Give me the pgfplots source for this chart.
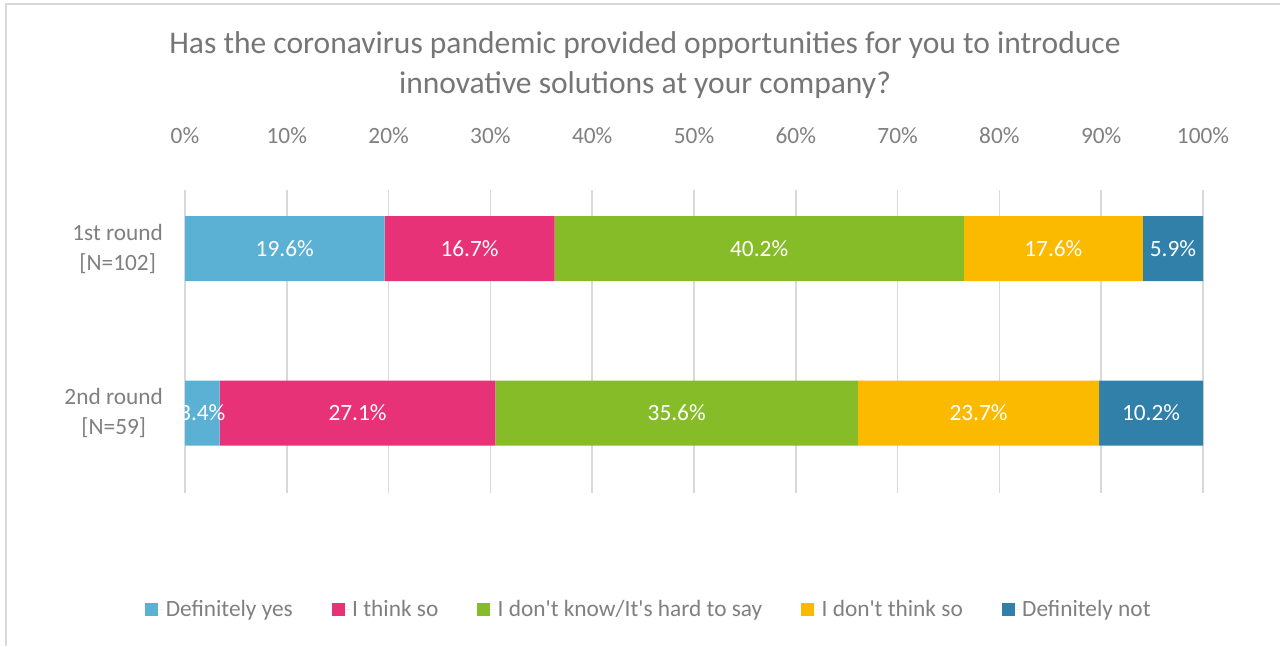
\documentclass[border=0pt]{standalone}
\usepackage{pgfplots}
\pgfplotsset{compat=1.18}
\usepackage{fontspec}
\setmainfont{Carlito}
\definecolor{cA}{HTML}{5BB1D4}
\definecolor{cB}{HTML}{E83278}
\definecolor{cC}{HTML}{86BC28}
\definecolor{cD}{HTML}{FBB900}
\definecolor{cE}{HTML}{3180AA}
\definecolor{gridgray}{HTML}{D9D9D9}
\definecolor{labelgray}{HTML}{808080}
\definecolor{titlegray}{HTML}{767676}
\begin{document}
\begin{tikzpicture}[x=1pt,y=1pt]
\useasboundingbox (0,0) rectangle (960,484.5);
\fill[white] (0,0) rectangle (960,484.5);
\draw[gridgray, line width=0.8pt] (4.5,0) -- (4.5,481.5) -- (960,481.5);
\node[text=titlegray, font=\fontsize{23.65}{30}\selectfont, align=center] at (483.75,435.75)
  {Has the coronavirus pandemic provided opportunities for you to introduce\\innovative solutions at your company?};
\begin{axis}[
  at={(138.75pt,114.75pt)}, anchor=south west,
  scale only axis, width=763.5pt, height=227.25pt,
  xbar stacked, bar width=48.75pt,
  xmin=0, xmax=100, ymin=-0.486, ymax=1.356,
  xtick={0,10,...,100},
  xticklabels={0\%,10\%,20\%,30\%,40\%,50\%,60\%,70\%,80\%,90\%,100\%},
  xticklabel pos=top,
  xticklabel style={yshift=31pt},
  ytick={0,1},
  yticklabels={{2nd round\\{}[N=59]},{1st round\\{}[N=102]}},
  yticklabel style={align=center, xshift=-13pt, font=\fontsize{17.5}{22.5}\selectfont},
  tick label style={text=labelgray, font=\fontsize{17.5}{22.5}\selectfont},
  axis line style={draw=none},
  major tick length=0pt,
  xmajorgrids, ymajorgrids=false,
  grid style={gridgray, line width=1.1pt},
  visualization depends on={rawx \as \rawxv},
  nodes near coords={\pgfmathprintnumber[fixed,fixed zerofill,precision=1]{\rawxv}\%},
  /pgf/number format/assume math mode=true,
  every node near coord/.append style={anchor=center, text=white,
     font=\fontsize{17.5}{21}\selectfont},
  legend style={at={(0.456,-0.383)}, anchor=center, draw=none, fill=none,
     legend columns=5, font=\fontsize{17.5}{21}\selectfont, text=labelgray,
     /tikz/every even column/.append style={column sep=27pt}, inner sep=0pt},
  legend image code/.code={\path[#1,draw=none] (0pt,-4.875pt) rectangle (9.75pt,4.875pt);
     \path (0pt,0pt) -- (13.5pt,0pt);},
]
\addplot[fill=cA, draw=none] coordinates {(19.6,1) (3.4,0)};
\addplot[fill=cB, draw=none] coordinates {(16.7,1) (27.1,0)};
\addplot[fill=cC, draw=none] coordinates {(40.2,1) (35.6,0)};
\addplot[fill=cD, draw=none] coordinates {(17.6,1) (23.7,0)};
\addplot[fill=cE, draw=none] coordinates {(5.9,1) (10.2,0)};
\legend{Definitely yes, I think so, I don\textquotesingle t know/It\textquotesingle s hard to say, I don\textquotesingle t think so, Definitely not}
\end{axis}
\end{tikzpicture}
\end{document}
